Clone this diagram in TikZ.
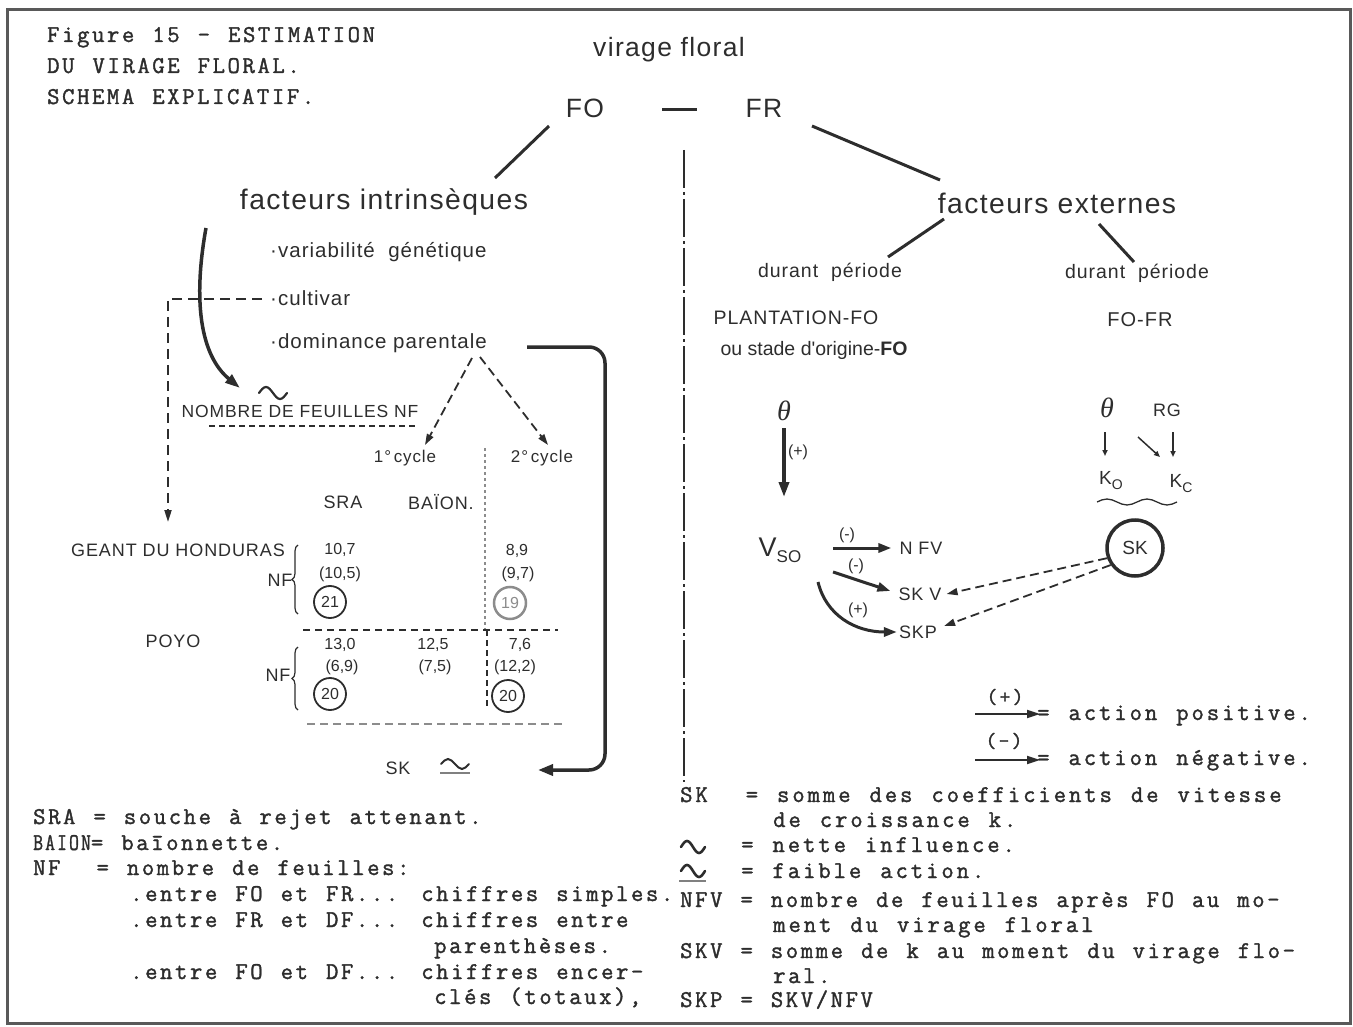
\documentclass[tikz,border=0pt]{standalone}
\usepackage{fontspec}
\setmainfont{Liberation Sans}
\newfontfamily\dsans[LetterSpace=5]{Liberation Sans}
\newfontfamily\dsanstight{Liberation Sans}
\newfontfamily\grserif{Liberation Serif}
\newfontfamily\tw[LetterSpace=10.8,WordSpace=1.206,FakeBold=1.5]{Latin Modern Mono}
\newfontfamily\twr[LetterSpace=12.2,WordSpace=1.24,FakeBold=1.5]{Latin Modern Mono}
\usetikzlibrary{arrows.meta,decorations.pathreplacing,calc}
\definecolor{ink}{RGB}{45,45,45}
\newcommand\fsz[1]{\fontsize{#1}{#1}\selectfont}
\begin{document}
\begin{tikzpicture}[x=1pt,y=-1pt,
  sans/.style={inner sep=0pt,text=ink,font=\dsans\fsz{#1}},
  sans/.default=20,
  tsans/.style={inner sep=0pt,text=ink,font=\dsanstight\fsz{#1}},
  mono/.style={inner sep=0pt,text=ink,font=\tw\fsz{24},anchor=base west},
  monor/.style={inner sep=0pt,text=ink,font=\twr\fsz{24},anchor=base west},
  bar/.style={draw=ink,line width=3pt},
  thickarrow/.style={draw=ink,line width=3.5pt,-{Triangle[length=15pt,width=10pt]}},
  midarrow/.style={draw=ink,line width=3pt,-{Triangle[length=13pt,width=9pt]}},
  smallarrow/.style={draw=ink,line width=1.5pt,-{Triangle[length=6pt,width=5pt]}},
  dasharrow/.style={draw=ink,line width=1.8pt,dash pattern=on 9pt off 5pt,-{Triangle[length=11pt,width=7pt]}},
  dashline/.style={draw=ink,line width=1.6pt,dash pattern=on 7pt off 5pt},
  circnum/.style={circle,draw=ink,line width=1.8pt,minimum size=32pt,inner sep=0pt,text=ink,font=\dsanstight\fsz{16}},
  tilde/.style={draw=ink,line width=2.6pt,line cap=round},
]
\useasboundingbox (0,0) rectangle (1353,1027);
% frame
\draw[draw=black!65, line width=3pt] (7,10) rectangle (1350,1023);

% title
\node[mono] (t1) at (47,42) {Figure 15 - ESTIMATION};
\node[mono] (t2) at (47,73) {DU VIRAGE FLORAL.};
\node[mono] (t3) at (47,104) {SCHEMA EXPLICATIF.};

% top
\node[sans=26.5] (vf) at (669,50) {virage floral};
\node[sans=26.5] (FO) at (585,108) {FO};
\node[sans=26.5] (FR) at (764,108) {FR};
\draw[bar] (662,110) -- (697,110);
\node[sans=28.3] (fi) at (384,202) {facteurs intrinsèques};
\node[sans=28.3] (fe) at (1057,203) {facteurs externes};
\coordinate (fo1) at (549,126); \coordinate (fi1) at (495,178);
\coordinate (fr1) at (812,126); \coordinate (fe1) at (940,180);
\draw[bar] (fo1) -- (fi1);
\draw[bar] (fr1) -- (fe1);

% central dash-dot separator
\draw[draw=ink, line width=2.5pt, dash pattern=on 38pt off 4pt on 3pt off 4pt] (684,150) -- (684,782);

% external factors
\coordinate (fe2) at (944,219); \coordinate (dp1t) at (888,257);
\coordinate (fe3) at (1099,224); \coordinate (dp2t) at (1134,262);
\draw[bar] (fe2) -- (dp1t);
\draw[bar] (fe3) -- (dp2t);
\node[sans=19.5] (dp1) at (830,272) {durant\ \ période};
\node[sans=19.5] (dp2) at (1137,273) {durant\ \ période};
\node[sans=19.5] (pfo) at (796,318) {PLANTATION-FO};
\node[tsans=19.5] (osd) at (814,350) {ou stade d'origine-\textbf{FO}};
\node[sans=20] (fofr) at (1140,320) {FO-FR};

% intrinsic factors list
\node[sans=20.5,anchor=west] (var) at (270,252) {·variabilité\ \ génétique};
\node[sans=20.5,anchor=west] (cul) at (270,298) {·cultivar};
\node[sans=20.5,anchor=west] (dom) at (270,343) {·dominance parentale};

% curved arrow to NF
\coordinate (ca0) at (206,228); \coordinate (nf0) at (240,388);
\draw[thickarrow] (ca0) .. controls (193,300) and (200,355) .. (nf0);

% cultivar dashed arrow
\coordinate (cu1) at (262,299); \coordinate (gh0) at (168,522);
\draw[draw=ink,line width=2pt,dash pattern=on 10pt off 6pt,-{Triangle[length=12pt,width=7pt]}] (cu1) -| (gh0);

% NOMBRE DE FEUILLES
\draw[tilde,line width=2.2pt] (259,393) sin (266,387) cos (273,393) sin (280,399) cos (287,393);
\node[sans=17.5] (nf) at (300,411) {NOMBRE DE FEUILLES NF};
\draw[draw=ink,line width=1.5pt,dash pattern=on 6pt off 4pt] (209,426) -- (417,426);

% dominance -> cycles
\coordinate (dpa) at (472,358); \coordinate (dpb) at (480,357);
\coordinate (c1t) at (425,445); \coordinate (c2t) at (548,445);
\draw[dasharrow] (dpa) -- (c1t);
\draw[dasharrow] (dpb) -- (c2t);
\node[sans=17] (c1) at (405,458) {1°\,cycle};
\node[sans=17] (c2) at (542,458) {2°\,cycle};

% table lines
\draw[draw=black!45, line width=2.5pt, dash pattern=on 3pt off 3pt] (485,448) -- (485,630);
\draw[dashline] (303,630) -- (558,630);
\draw[draw=ink,line width=1.5pt,dash pattern=on 6pt off 4pt] (487,630) -- (487,708);
\draw[draw=black!45,line width=2.5pt,dash pattern=on 8pt off 5pt] (307,724) -- (563,724);

\node[sans=18] (sra) at (343,502) {SRA};
\node[sans=18] (bai) at (441,502) {BAÏON.};
\node[sans=18] (gdh) at (178,550) {GEANT DU HONDURAS};
\node[sans=18] (poyo) at (173,641) {POYO};
\node[sans=18] (nf1) at (280,580) {NF};
\node[sans=18] (nf2) at (278,675) {NF};
\draw[draw=ink,line width=1.2pt,decorate,decoration={brace,amplitude=6pt}] (298,614) -- (298,545);
\draw[draw=ink,line width=1.2pt,decorate,decoration={brace,amplitude=6pt}] (298,710) -- (298,647);

\node[tsans=16] (v1) at (340,550) {10,7};
\node[tsans=16] (v2) at (340,574) {(10,5)};
\node[circnum] (v3) at (330,602) {21};
\node[tsans=16] (v4) at (517,551) {8,9};
\node[tsans=16] (v5) at (518,574) {(9,7)};
\node[circnum,draw=black!45,text=black!45,line width=2.5pt] (v6) at (510,603) {19};
\node[tsans=16] (w1) at (340,645) {13,0};
\node[tsans=16] (w2) at (342,667) {(6,9)};
\node[circnum] (w3) at (330,694) {20};
\node[tsans=16] (w4) at (433,645) {12,5};
\node[tsans=16] (w5) at (435,667) {(7,5)};
\node[tsans=16] (w6) at (520,645) {7,6};
\node[tsans=16] (w7) at (515,667) {(12,2)};
\node[circnum] (w8) at (508,696) {20};

% SK weak action
\node[sans=18] (skl) at (398,768) {SK};
\draw[tilde,line width=2pt] (441,764) sin (448,759) cos (455,764) sin (462,769) cos (469,764);
\draw[draw=black!50,line width=2pt] (440,773) -- (470,773);

% big return arrow
\coordinate (da0) at (527,347); \coordinate (sk0) at (538,770);
\draw[draw=ink,line width=3.5pt,rounded corners=16pt,-{Triangle[length=15pt,width=11pt]}] (da0) -- (605,347) -- (605,770) -- (sk0);

% right: theta part
\node[text=ink,inner sep=0pt,font=\grserif\itshape\fsz{28}] (th1) at (784,411) {θ};
\node[text=ink,inner sep=0pt,font=\grserif\itshape\fsz{28}] (th2) at (1107,408) {θ};
\coordinate (th1b) at (784,428); \coordinate (vso0) at (784,497);
\draw[thickarrow] (th1b) -- (vso0);
\node[tsans=16] (pl1) at (798,452) {(+)};
\node[inner sep=0pt,text=ink] (vso) at (780,550) {{\dsanstight\fsz{27}V}{\dsanstight\fsz{17}\raisebox{-6pt}{SO}}};

\node[sans=18] (nfv) at (921,548) {N FV};
\node[sans=18] (skv) at (920,594) {SK V};
\node[sans=18] (skp) at (918,632) {SKP};
\coordinate (a1s) at (833,548); \coordinate (a2s) at (833,572); \coordinate (a3s) at (818,582);
\draw[midarrow] (a1s) -- ($(nfv.west)+(-8,0)$);
\draw[midarrow] (a2s) -- ($(skv.west)+(-8,-3)$);
\draw[midarrow] (a3s) .. controls (826,615) and (855,632) .. ($(skp.west)+(-2,0)$);
\node[tsans=16] (m1) at (847,535) {(-)};
\node[tsans=16] (m2) at (856,566) {(-)};
\node[tsans=16] (p3) at (858,610) {(+)};

\node[sans=18] (rg) at (1167,410) {RG};
\node[inner sep=0pt,text=ink] (ko) at (1111,481) {{\dsanstight\fsz{19}K}{\dsanstight\fsz{14}\raisebox{-5pt}{O}}};
\node[inner sep=0pt,text=ink] (kc) at (1181,484) {{\dsanstight\fsz{19}K}{\dsanstight\fsz{14}\raisebox{-5pt}{C}}};
\draw[smallarrow] (1105,432) -- (1105,456);
\draw[smallarrow] (1138,437) -- (1160,457);
\draw[smallarrow] (1173,432) -- (1173,457);
\draw[draw=ink,line width=1.3pt] (1097,502) sin (1107,499) cos (1117,502) sin (1127,505) cos (1137,502) sin (1147,499) cos (1157,502) sin (1167,505) cos (1177,502);
\node[circle,draw=ink,line width=3.5pt,minimum size=56pt,inner sep=0pt,text=ink,font=\dsanstight\fsz{19}] (skc) at (1135,548) {SK};
\draw[dasharrow] (skc.200) -- ($(skv.east)+(5,0)$);
\draw[dasharrow] (skc.215) -- ($(skp.east)+(7,-6)$);

% legend arrows
\coordinate (lp0) at (975,714); \coordinate (lp1) at (1040,714);
\coordinate (ln0) at (975,760); \coordinate (ln1) at (1040,760);
\draw[draw=ink,line width=2pt,-{Triangle[length=13pt,width=8pt]}] (lp0) -- (lp1);
\draw[draw=ink,line width=2pt,-{Triangle[length=13pt,width=8pt]}] (ln0) -- (ln1);
\node[inner sep=0pt,text=ink,font=\tw\fsz{21}] (lpp) at (1005,697) {(+)};
\node[inner sep=0pt,text=ink,font=\tw\fsz{21}] (lnn) at (1004,741) {(-)};
\node[monor] (lpt) at (1037,720) {= action positive.};
\node[monor] (lnt) at (1037,765) {= action négative.};

% right legend
\node[monor] (r1) at (680,802) {SK~~= somme des coefficients de vitesse};
\node[monor] (r2) at (773,827) {de croissance k.};
\draw[tilde] (681,847) sin (687,841) cos (693,847) sin (699,853) cos (705,847);
\node[monor] (r3) at (741,852) {= nette influence.};
\draw[tilde] (681,871) sin (687,865) cos (693,871) sin (699,877) cos (705,871);
\draw[draw=black!50,line width=2pt] (679,881) -- (706,881);
\node[monor] (r4) at (741,878) {= faible action.};
\node[mono] (r5) at (680,907) {NFV = nombre de feuilles après FO au mo-};
\node[monor] (r6) at (773,932) {ment du virage floral};
\node[mono] (r7) at (680,958) {SKV = somme de k au moment du virage flo-};
\node[mono] (r8) at (773,983) {ral.};
\node[mono] (r9) at (680,1007) {SKP = SKV/NFV};

% left legend
\node[mono] (l1) at (33,824) {SRA = souche à rejet attenant.};
\node[mono] (l2) at (33,850) {\scalebox{0.8}[1]{BAION}= baīonnette.};
\node[mono] (l3) at (33,875) {NF~~= nombre de feuilles:};
\node[mono] (l4) at (130,901) {.entre FO et FR... chiffres simples.};
\node[mono] (l5) at (130,927) {.entre FR et DF... chiffres entre};
\node[mono] (l6) at (434,953) {parenthèses.};
\node[mono] (l7) at (130,979) {.entre FO et DF... chiffres encer-};
\node[mono] (l8) at (434,1004) {clés (totaux),};
\end{tikzpicture}
\end{document}
